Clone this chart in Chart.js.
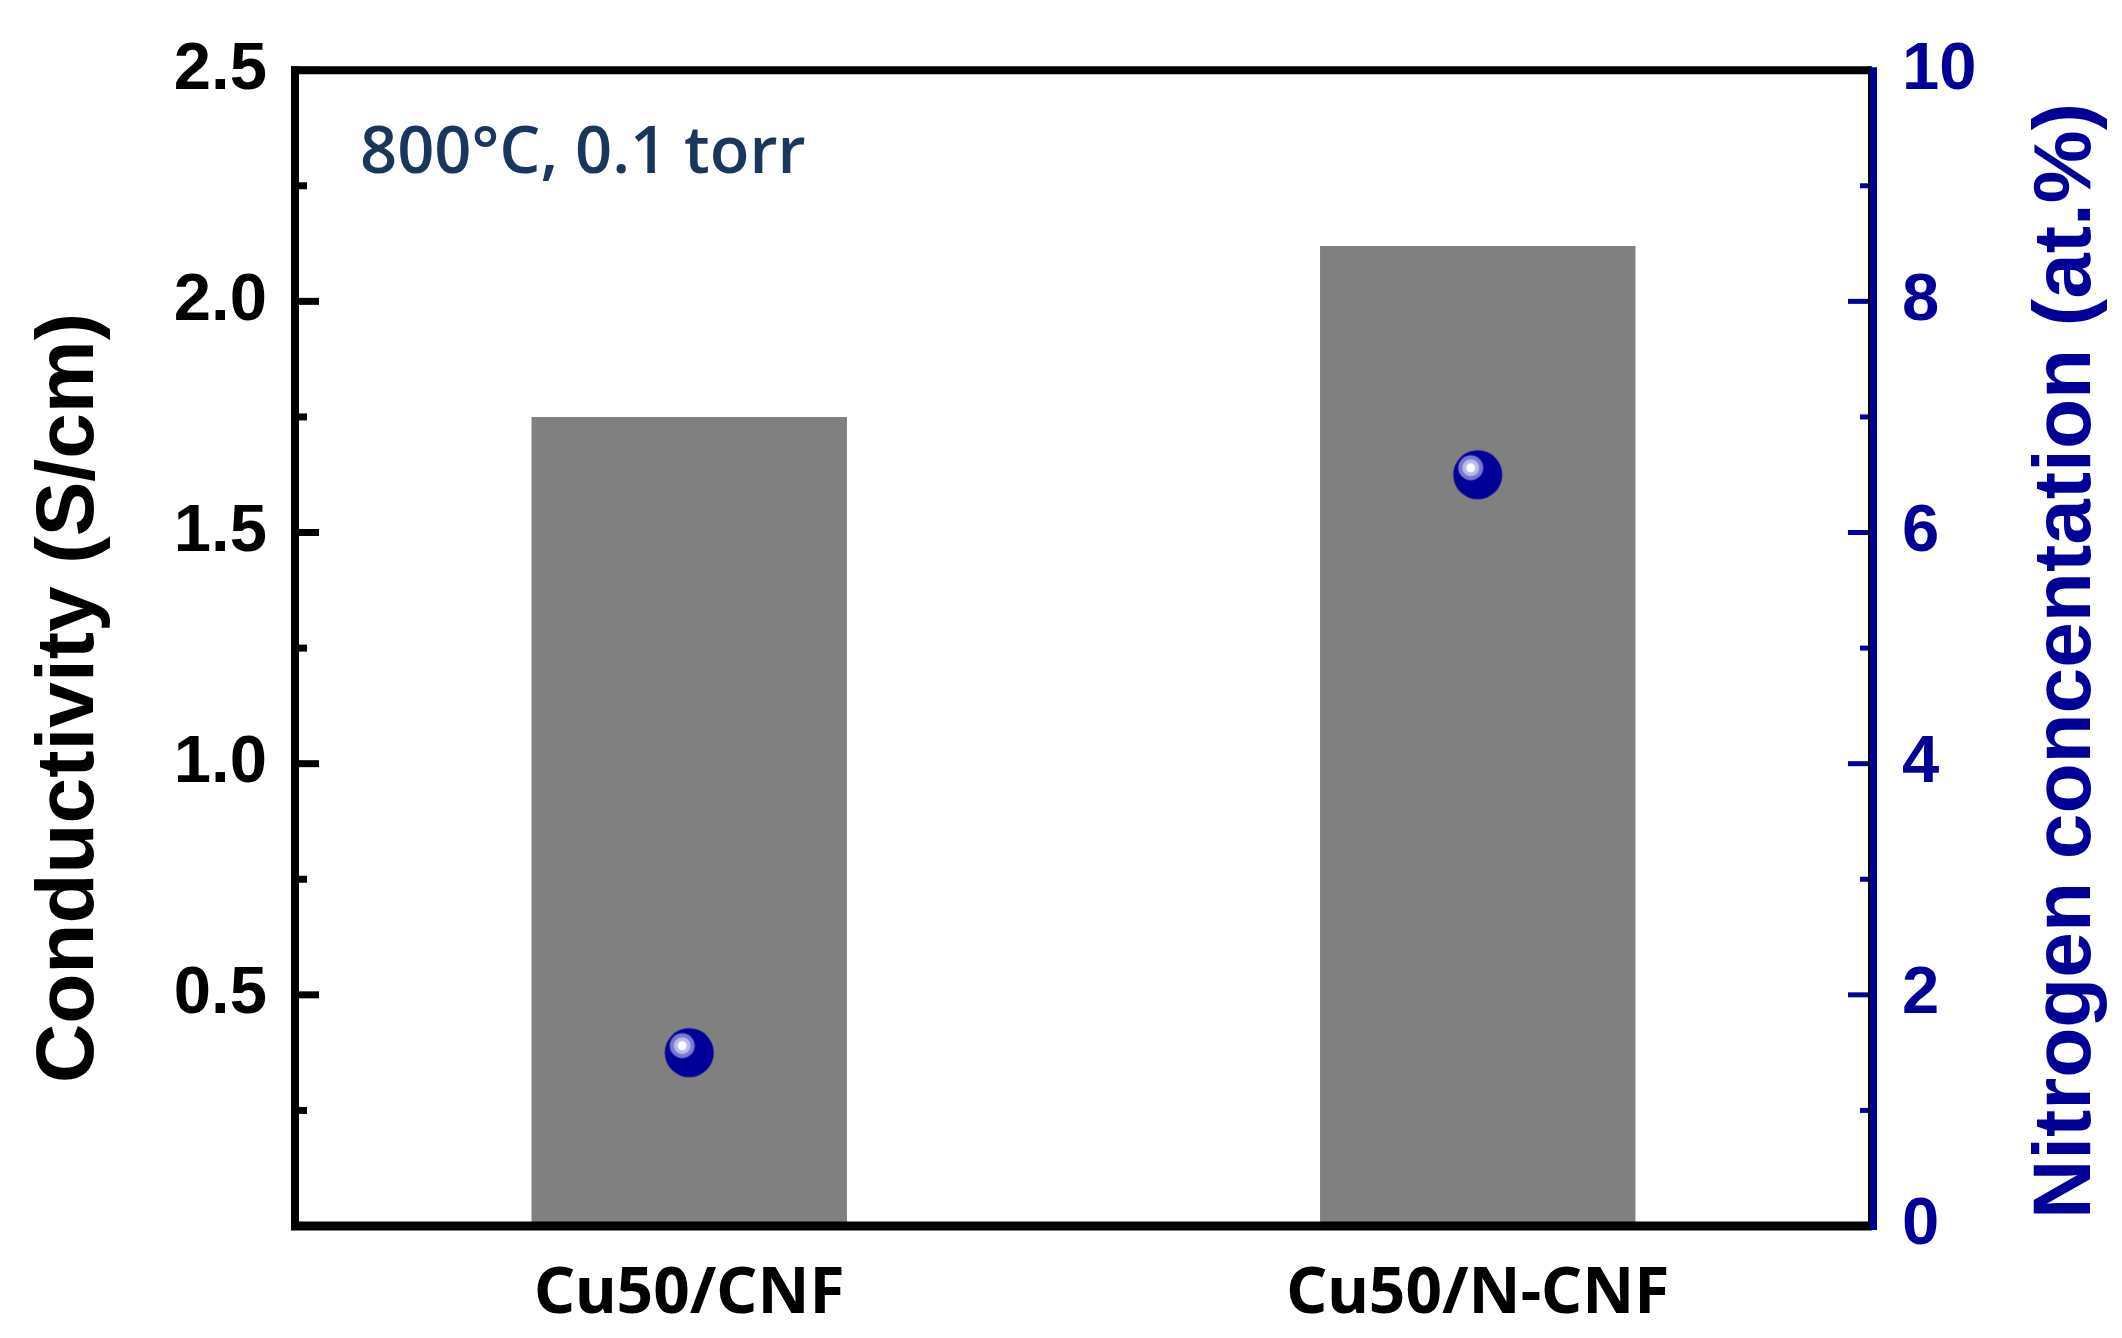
<!DOCTYPE html>
<html>
<head>
<meta charset="utf-8">
<script src="https://cdn.jsdelivr.net/npm/chart.js@4"></script>
<style>
  html, body { margin: 0; padding: 0; background: #fff; }
  #chart { display: block; }
</style>
</head>
<body>
<canvas id="chart" width="2122" height="1338"></canvas>
<script>
// data
const categories = ['Cu50/CNF', 'Cu50/N-CNF'];
const conductivity = [1.75, 2.12];   // S/cm, left axis
const nitrogen = [1.5, 6.5];         // at.%, right axis
const condRange = [0, 2.5];
const condStep = 0.5;
const nitroRange = [0, 10];
const nitroStep = 2;

const leftTitle = 'Conductivity (S/cm)';
const rightTitle = 'Nitrogen concentation (at.%)';
const note = '800°C, 0.1 torr';

const BLUE = '#000099';
const GREY = '#808080';

// shiny ball marker
function makeBall() {
  const c = document.createElement('canvas');
  c.width = 52; c.height = 52;
  const g = c.getContext('2d');
  const cx = 26, cy = 26;
  g.fillStyle = BLUE;
  g.beginPath(); g.arc(cx, cy, 24.5, 0, Math.PI * 2); g.fill();
  const hx = cx - 7, hy = cy - 7;
  g.fillStyle = 'rgb(120,120,205)';
  g.beginPath(); g.arc(hx, hy, 12.5, 0, Math.PI * 2); g.fill();
  g.fillStyle = 'rgb(185,185,238)';
  g.beginPath(); g.arc(hx, hy, 8.5, 0, Math.PI * 2); g.fill();
  g.fillStyle = '#fff';
  g.beginPath(); g.arc(hx, hy, 4.5, 0, Math.PI * 2); g.fill();
  return c;
}

function minorsOf(scale) {
  const t = scale.ticks.map(k => k.value);
  const out = [];
  for (let i = 0; i < t.length - 1; i++) out.push((t[i] + t[i + 1]) / 2);
  return out;
}

const framePlugin = {
  id: 'frame',
  afterDatasetsDraw(chart) {
    const ctx = chart.ctx;
    const a = chart.chartArea;
    const yl = chart.scales.y;
    const yr = chart.scales.y1;
    ctx.save();
    ctx.lineCap = 'butt';

    // left ticks (inward)
    ctx.strokeStyle = '#000';
    ctx.lineWidth = 7;
    yl.ticks.forEach(t => {
      const p = yl.getPixelForValue(t.value);
      ctx.beginPath(); ctx.moveTo(a.left, p); ctx.lineTo(a.left + 24, p); ctx.stroke();
    });
    minorsOf(yl).forEach(v => {
      const p = yl.getPixelForValue(v);
      ctx.beginPath(); ctx.moveTo(a.left, p); ctx.lineTo(a.left + 12, p); ctx.stroke();
    });

    // right ticks (inward, blue)
    ctx.strokeStyle = BLUE;
    ctx.lineWidth = 5;
    yr.ticks.forEach(t => {
      const p = yr.getPixelForValue(t.value);
      ctx.beginPath(); ctx.moveTo(a.right, p); ctx.lineTo(a.right - 24, p); ctx.stroke();
    });
    minorsOf(yr).forEach(v => {
      const p = yr.getPixelForValue(v);
      ctx.beginPath(); ctx.moveTo(a.right, p); ctx.lineTo(a.right - 12, p); ctx.stroke();
    });

    // frame
    ctx.strokeStyle = '#000';
    ctx.lineWidth = 8;
    ctx.beginPath(); ctx.moveTo(a.left - 4, a.top); ctx.lineTo(a.right, a.top); ctx.stroke();
    ctx.lineWidth = 9;
    ctx.beginPath(); ctx.moveTo(a.left - 4, a.bottom); ctx.lineTo(a.right, a.bottom); ctx.stroke();
    ctx.lineWidth = 8;
    ctx.beginPath(); ctx.moveTo(a.left, a.top - 4); ctx.lineTo(a.left, a.bottom + 4); ctx.stroke();
    ctx.lineWidth = 2;
    ctx.beginPath(); ctx.moveTo(a.right - 3, a.top - 4); ctx.lineTo(a.right - 3, a.bottom + 4); ctx.stroke();
    ctx.strokeStyle = BLUE;
    ctx.lineWidth = 7;
    ctx.beginPath(); ctx.moveTo(a.right + 1.5, a.top - 3); ctx.lineTo(a.right + 1.5, a.bottom + 4); ctx.stroke();
    ctx.restore();
  },
  afterDraw(chart) {
    const ctx = chart.ctx;
    ctx.save();
    // note in the upper left corner
    ctx.fillStyle = '#1b365d';
    ctx.font = '600 65px "Open Sans"';
    ctx.textBaseline = 'alphabetic';
    ctx.textAlign = 'left';
    ctx.fillText(note, 360, 173);

    // axis titles
    ctx.font = 'bold 82px "Liberation Sans"';
    ctx.textAlign = 'center';
    ctx.fillStyle = '#000';
    ctx.save();
    ctx.translate(93, 698);
    ctx.rotate(-Math.PI / 2);
    ctx.fillText(leftTitle, 0, 0);
    ctx.restore();

    ctx.fillStyle = BLUE;
    ctx.save();
    ctx.translate(2090, 661);
    ctx.rotate(-Math.PI / 2);
    ctx.fillText(rightTitle, 0, 0);
    ctx.restore();
    ctx.restore();
  }
};

new Chart(document.getElementById('chart').getContext('2d'), {
  data: {
    labels: categories,
    datasets: [
      {
        type: 'line',
        label: 'Nitrogen',
        data: nitrogen,
        yAxisID: 'y1',
        showLine: false,
        pointStyle: makeBall(),
        pointRadius: 24,
        order: 0
      },
      {
        type: 'bar',
        label: 'Conductivity',
        data: conductivity,
        yAxisID: 'y',
        backgroundColor: GREY,
        borderWidth: 0,
        barPercentage: 0.4,
        categoryPercentage: 1.0,
        order: 1
      }
    ]
  },
  options: {
    responsive: false,
    animation: false,
    devicePixelRatio: 1,
    layout: { padding: { top: 63, left: 0, right: 0, bottom: 0 } },
    plugins: {
      legend: { display: false },
      tooltip: { enabled: false }
    },
    scales: {
      x: {
        offset: true,
        grid: { display: false, drawTicks: false },
        border: { display: false },
        ticks: {
          color: '#000',
          padding: 30,
          font: { family: '"Noto Sans"', weight: 'bold', size: 64 }
        },
        afterFit(s) { s.height = 112; }
      },
      y: {
        position: 'left',
        min: condRange[0],
        max: condRange[1],
        grid: { display: false, drawTicks: false },
        border: { display: false },
        ticks: {
          stepSize: condStep,
          color: '#000',
          padding: 28,
          font: { family: '"Liberation Sans"', weight: 'bold', size: 67 },
          callback: v => (v === 0 ? '' : v.toFixed(1))
        },
        afterFit(s) { s.width = 295; }
      },
      y1: {
        position: 'right',
        min: nitroRange[0],
        max: nitroRange[1],
        grid: { display: false, drawTicks: false },
        border: { display: false },
        ticks: {
          stepSize: nitroStep,
          color: BLUE,
          padding: 30,
          font: { family: '"Liberation Sans"', weight: 'bold', size: 67 }
        },
        afterFit(s) { s.width = 250; }
      }
    }
  },
  plugins: [framePlugin]
});
</script>
</body>
</html>
